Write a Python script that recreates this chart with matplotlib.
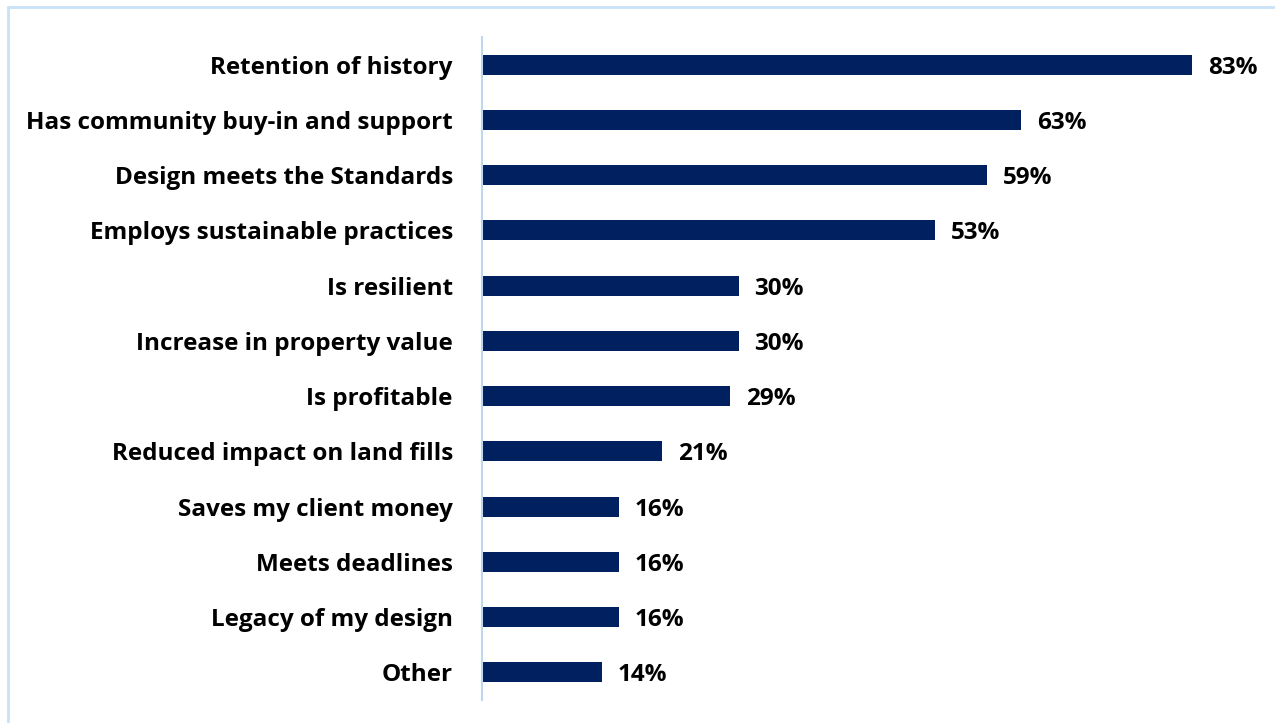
import matplotlib.pyplot as plt
from matplotlib.patches import Rectangle

categories = ['Retention of history', 'Has community buy-in and support',
              'Design meets the Standards', 'Employs sustainable practices',
              'Is resilient', 'Increase in property value', 'Is profitable',
              'Reduced impact on land fills', 'Saves my client money',
              'Meets deadlines', 'Legacy of my design', 'Other']
values = [83, 63, 59, 53, 30, 30, 29, 21, 16, 16, 16, 14]

plt.rcParams['font.family'] = ['Open Sans', 'DejaVu Sans']

fig = plt.figure(figsize=(12.75, 7.23), dpi=100)
ax = fig.add_axes([482 / 1275, 23 / 723, 1 - 482 / 1275, 663 / 723])

ypos = list(range(len(categories)))
ax.barh(ypos, values, height=0.36, color='#002060')
ax.set_ylim(len(categories) - 0.5, -0.5)
ax.set_xlim(0, (1275 - 482) / 8.554)

ax.set_yticks(ypos)
ax.set_yticklabels(categories, fontsize=17.5, fontweight='bold')
ax.tick_params(axis='y', length=0, pad=21)
ax.set_xticks([])

for y, v in zip(ypos, values):
    ax.annotate(f'{v}%', (v, y), xytext=(11.5, 0), textcoords='offset points',
                ha='left', va='center_baseline', fontsize=17.5, fontweight='bold')

for s in ['top', 'right', 'bottom']:
    ax.spines[s].set_visible(False)
ax.spines['left'].set_color('#BDD7EE')
ax.spines['left'].set_linewidth(1.5)

# light outer frame
fig.patches.append(Rectangle((8 / 1275, -0.1), 1.1, (723 - 7) / 723 + 0.1,
                             transform=fig.transFigure, fill=False,
                             edgecolor='#C9E2F7', linewidth=2))

fig.savefig('out.png', dpi=100)
